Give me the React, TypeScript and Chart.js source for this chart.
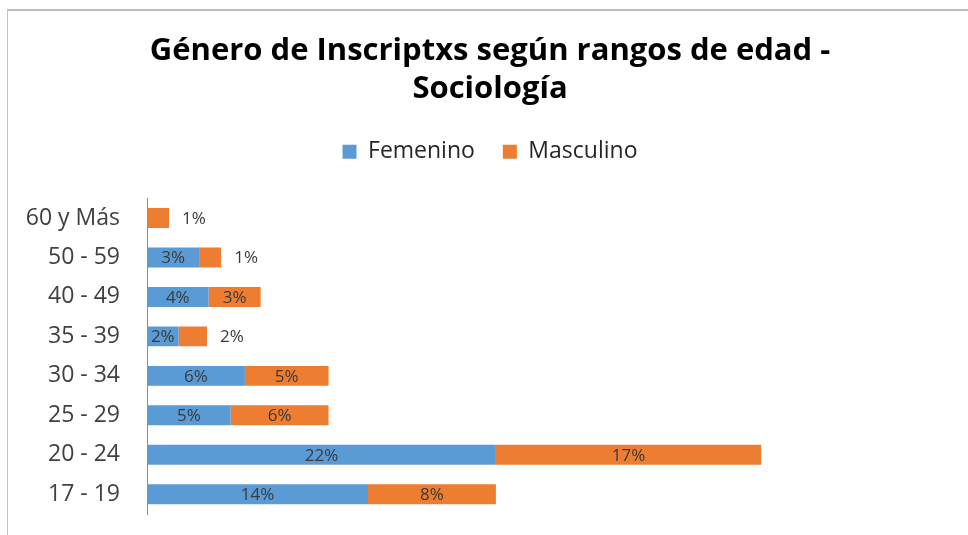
import React, { useEffect, useRef } from "react";
import { Chart, registerables } from "chart.js";

Chart.register(...registerables);

const titleLines = ["Género de Inscriptxs según rangos de edad -", "Sociología"];
const categories = ["60 y Más", "50 - 59", "40 - 49", "35 - 39", "30 - 34", "25 - 29", "20 - 24", "17 - 19"];
const seriesNames = ["Femenino", "Masculino"];
const femenino = [0, 3.3, 3.9, 2.0, 6.2, 5.3, 22.1, 14.0];
const masculino = [1.4, 1.4, 3.3, 1.8, 5.3, 6.2, 16.8, 8.1];
const seriesColors = ["#5B9BD5", "#ED7D31"];

const dataLabelPlugin = {
  id: "dataLabels",
  afterDatasetsDraw(chart: any) {
    const ctx = chart.ctx;
    ctx.save();
    ctx.font = "17px 'Open Sans'";
    ctx.textBaseline = "middle";
    ctx.fillStyle = "#3a3a3a";
    chart.data.datasets.forEach((ds: any, di: number) => {
      const meta = chart.getDatasetMeta(di);
      meta.data.forEach((el: any, i: number) => {
        const v = ds.data[i];
        if (!v) return;
        const txt = Math.round(v) + "%";
        const { x, y, base } = el.getProps(["x", "y", "base"], true);
        const w = x - base;
        const tw = ctx.measureText(txt).width;
        if (w >= tw + 6) {
          ctx.textAlign = "center";
          ctx.fillText(txt, (x + base) / 2, y + 1);
        } else {
          ctx.textAlign = "left";
          ctx.fillText(txt, x + 13, y + 1);
        }
      });
    });
    ctx.restore();
  },
};

export default function App() {
  const canvasRef = useRef<HTMLCanvasElement | null>(null);

  useEffect(() => {
    if (!canvasRef.current) return;
    const chart = new Chart(canvasRef.current, {
      type: "bar",
      data: {
        labels: categories,
        datasets: [
          {
            label: seriesNames[0],
            data: femenino,
            backgroundColor: seriesColors[0],
            borderWidth: 0,
            barPercentage: 0.505,
            categoryPercentage: 1,
          },
          {
            label: seriesNames[1],
            data: masculino,
            backgroundColor: seriesColors[1],
            borderWidth: 0,
            barPercentage: 0.505,
            categoryPercentage: 1,
          },
        ],
      },
      options: {
        indexAxis: "y",
        responsive: false,
        animation: false,
        devicePixelRatio: 1,
        events: [],
        layout: { padding: { left: 12, right: 0, top: 0, bottom: 21 } },
        scales: {
          x: {
            stacked: true,
            display: false,
            min: 0,
            max: 52,
          },
          y: {
            stacked: true,
            grid: { display: false, drawTicks: true, tickLength: 27 },
            border: { display: true, color: "#8c8c8c", width: 1 },
            ticks: {
              padding: 0,
              color: "#404040",
              font: { family: "'Open Sans'", size: 23 },
            },
            afterFit: (scale: any) => {
              scale.width = 135;
            },
          },
        },
        plugins: {
          title: {
            display: true,
            text: titleLines,
            color: "#000000",
            font: { family: "'Open Sans'", size: 31, weight: "bold", lineHeight: 1.23 },
            padding: { top: 32, bottom: 4 },
          },
          subtitle: {
            display: true,
            text: "",
            weight: 500,
            font: { size: 10, lineHeight: 1 },
            padding: { top: 15, bottom: 0 },
          },
          legend: {
            display: true,
            position: "top",
            labels: {
              color: "#262626",
              font: { family: "'Open Sans'", size: 23 },
              boxWidth: 14,
              boxHeight: 14,
              padding: 28,
            },
          },
          tooltip: { enabled: false },
        },
      },
      plugins: [dataLabelPlugin],
    });
    return () => chart.destroy();
  }, []);

  return (
    <div
      style={{
        position: "absolute",
        left: 0,
        top: 0,
        width: 968,
        height: 535,
        overflow: "hidden",
        background: "#ffffff",
      }}
    >
      <div
        style={{
          position: "absolute",
          left: 7,
          top: 9,
          width: 1000,
          height: 600,
          borderTop: "2px solid #bdbdbd",
          borderLeft: "1px solid #c4c4c4",
        }}
      />
      <canvas
        ref={canvasRef}
        width={968}
        height={535}
        style={{ position: "absolute", left: 0, top: 0, width: 968, height: 535 }}
      />
    </div>
  );
}
